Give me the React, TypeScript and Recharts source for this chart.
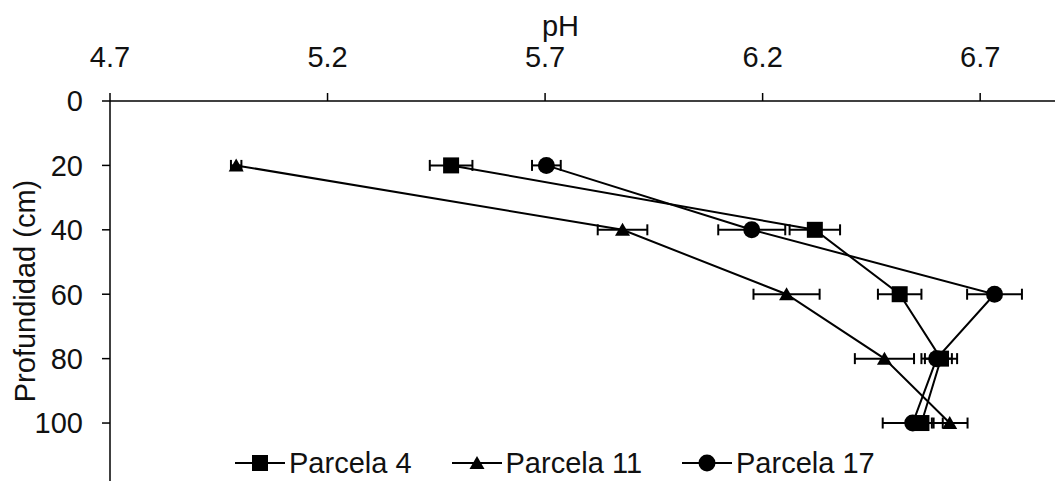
import React from 'react';
import { ScatterChart, Scatter, XAxis, YAxis, ErrorBar } from 'recharts';

const depths = [20, 40, 60, 80, 100];
const parcela4 = [5.484, 6.32, 6.515, 6.61, 6.565];
const parcela4Err = [0.049, 0.058, 0.05, 0.037, 0.028];
const parcela11 = [4.99, 5.878, 6.255, 6.48, 6.63];
const parcela11Err = [0.012, 0.057, 0.076, 0.068, 0.041];
const parcela17 = [5.703, 6.175, 6.733, 6.6, 6.545];
const parcela17Err = [0.033, 0.077, 0.063, 0.035, 0.069];
const seriesNames = ['Parcela 4', 'Parcela 11', 'Parcela 17'];
const xTicks = [4.7, 5.2, 5.7, 6.2, 6.7];
const yTicks = [0, 20, 40, 60, 80, 100];

const build = (vals: number[], errs: number[]) =>
  depths.map((d, i) => ({ ph: vals[i], depth: d, err: errs[i] }));

const FONT = '"Liberation Sans", Arial, sans-serif';
const TXT = '#111';

const SquareShape = (p: any) => (
  <rect x={p.cx - 8} y={p.cy - 8} width={16} height={16} fill="#000" />
);
const TriangleShape = (p: any) => (
  <polygon
    points={`${p.cx},${p.cy - 7} ${p.cx + 7.5},${p.cy + 6} ${p.cx - 7.5},${p.cy + 6}`}
    fill="#000"
  />
);
const CircleShape = (p: any) => <circle cx={p.cx} cy={p.cy} r={8.5} fill="#000" />;

const LegendIcon = ({ kind }: { kind: string }) => (
  <svg width={52} height={24} style={{ display: 'block' }}>
    <line x1={0} y1={12} x2={50} y2={12} stroke="#000" strokeWidth={2} />
    {kind === 'square' && <rect x={17} y={4} width={16} height={16} fill="#000" />}
    {kind === 'triangle' && <polygon points="25,5 32.5,18 17.5,18" fill="#000" />}
    {kind === 'circle' && <circle cx={25} cy={12} r={8.5} fill="#000" />}
  </svg>
);

const kinds = ['square', 'triangle', 'circle'];

export default function App() {
  return (
    <div style={{ position: 'absolute', left: 0, top: 0, width: 1055, height: 481, background: '#fff', overflow: 'hidden' }}>
      <ScatterChart width={1055} height={481} margin={{ top: 0, right: 0, bottom: 0, left: 0 }}>
        <XAxis
          type="number"
          dataKey="ph"
          orientation="top"
          domain={[4.7, 6.872]}
          allowDataOverflow
          ticks={xTicks}
          tickFormatter={(v: number) => v.toFixed(1)}
          height={101}
          tickSize={8}
          tickMargin={26}
          axisLine={{ stroke: '#000', strokeWidth: 1.5 }}
          tickLine={{ stroke: '#000', strokeWidth: 1.5 }}
          tick={{ fill: TXT, fontSize: 29, fontFamily: FONT }}
          label={{
            content: (props: any) => {
              const vb = props.viewBox || { x: 110, width: 945 };
              return (
                <text
                  x={vb.x + vb.width / 2 - 22}
                  y={36}
                  textAnchor="middle"
                  fill={TXT}
                  fontSize={29}
                  fontFamily={FONT}
                >
                  pH
                </text>
              );
            },
          }}
        />
        <YAxis
          type="number"
          dataKey="depth"
          reversed
          domain={[0, 118]}
          allowDataOverflow
          ticks={yTicks}
          width={110}
          tickSize={8}
          tickMargin={19}
          axisLine={{ stroke: '#000', strokeWidth: 1.5 }}
          tickLine={{ stroke: '#000', strokeWidth: 1.5 }}
          tick={{ fill: TXT, fontSize: 29, fontFamily: FONT }}
          label={{
            content: (props: any) => {
              const vb = props.viewBox || { y: 101, height: 380 };
              const cy = vb.y + vb.height / 2;
              return (
                <text
                  x={25}
                  y={cy}
                  transform={`rotate(-90 25 ${cy})`}
                  textAnchor="middle"
                  dominantBaseline="central"
                  fill={TXT}
                  fontSize={29}
                  fontFamily={FONT}
                >
                  Profundidad (cm)
                </text>
              );
            },
          }}
        />
        <Scatter
          name={seriesNames[0]}
          data={build(parcela4, parcela4Err)}
          fill="#000"
          line={{ stroke: '#000', strokeWidth: 2 }}
          shape={SquareShape}
          isAnimationActive={false}
        >
          <ErrorBar dataKey="err" direction="x" width={5.5} stroke="#000" strokeWidth={2} />
        </Scatter>
        <Scatter
          name={seriesNames[1]}
          data={build(parcela11, parcela11Err)}
          fill="#000"
          line={{ stroke: '#000', strokeWidth: 2 }}
          shape={TriangleShape}
          isAnimationActive={false}
        >
          <ErrorBar dataKey="err" direction="x" width={5.5} stroke="#000" strokeWidth={2} />
        </Scatter>
        <Scatter
          name={seriesNames[2]}
          data={build(parcela17, parcela17Err)}
          fill="#000"
          line={{ stroke: '#000', strokeWidth: 2 }}
          shape={CircleShape}
          isAnimationActive={false}
        >
          <ErrorBar dataKey="err" direction="x" width={5.5} stroke="#000" strokeWidth={2} />
        </Scatter>
      </ScatterChart>
      <div
        style={{
          position: 'absolute',
          left: 235,
          top: 446,
          display: 'flex',
          alignItems: 'center',
          gap: 40,
          fontFamily: FONT,
          fontSize: 29,
          color: TXT,
          lineHeight: '34px',
          whiteSpace: 'nowrap',
        }}
      >
        {seriesNames.map((n, i) => (
          <div key={n} style={{ display: 'flex', alignItems: 'center' }}>
            <LegendIcon kind={kinds[i]} />
            <span style={{ marginLeft: 2 }}>{n}</span>
          </div>
        ))}
      </div>
    </div>
  );
}
